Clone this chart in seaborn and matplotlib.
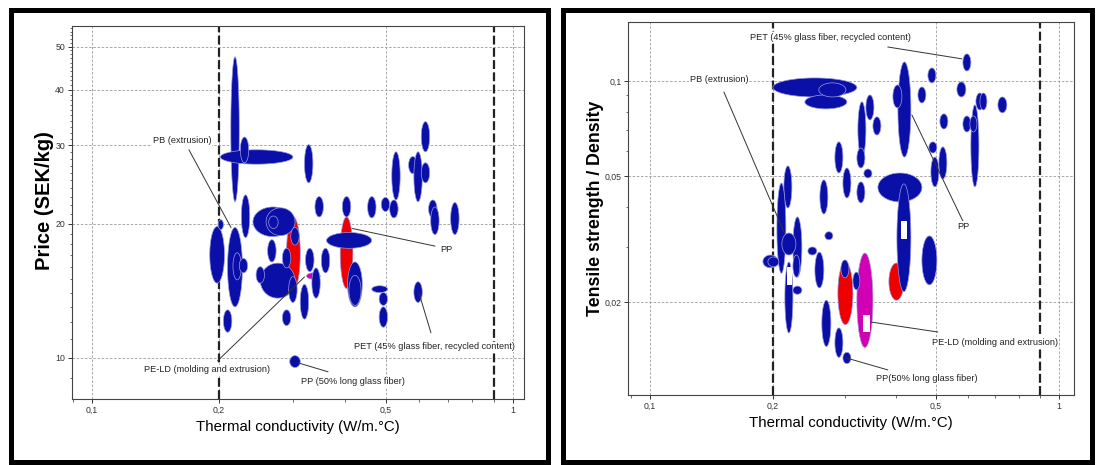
import numpy as np
import matplotlib
matplotlib.use("Agg")
import matplotlib.pyplot as plt
from matplotlib.patches import Rectangle
from matplotlib.ticker import FixedLocator, FixedFormatter, LogLocator, MultipleLocator, NullFormatter
import seaborn as sns

# estilo geral
sns.set_theme(style="white")
plt.rcParams["font.family"] = ["Liberation Sans", "DejaVu Sans"]

# ---- dados: painel esquerdo (condutividade x preco) ----
left_k_lo = [0.2138, 0.2018, 0.2252, 0.3199, 0.5158, 0.5656, 0.5821, 0.6061, 0.6061, 0.6310,
             0.6383, 0.7119, 0.3388, 0.3936, 0.4519, 0.4870, 0.5099, 0.2413, 0.2593, 0.2630,
             0.290, 0.389, 0.361, 0.1905, 0.1995, 0.210, 0.2163, 0.2239, 0.2265, 0.2615,
             0.2512, 0.2455, 0.2835, 0.2968, 0.2934, 0.3218, 0.3508, 0.3126, 0.3331, 0.3236,
             0.4050, 0.4080, 0.4624, 0.4814, 0.4814, 0.5821, 0.2835, 0.2053, 0.2951]
left_k_hi = [0.2239, 0.3003, 0.2358, 0.3350, 0.5401, 0.5923, 0.6095, 0.6346, 0.6346, 0.6607,
             0.6683, 0.7455, 0.3548, 0.4121, 0.4732, 0.5099, 0.5340, 0.3003, 0.3038, 0.2770,
             0.3126, 0.417, 0.462, 0.2065, 0.2053, 0.2278, 0.2265, 0.2344, 0.2371, 0.2739,
             0.3038, 0.2570, 0.2968, 0.3108, 0.3073, 0.3370, 0.3673, 0.3273, 0.3487, 0.3487,
             0.4389, 0.4360, 0.5041, 0.5041, 0.5041, 0.6095, 0.2968, 0.2150, 0.3126]
left_price_lo = [22.4, 27.2, 27.4, 24.7, 22.6, 25.9, 22.4, 29.0, 24.7, 20.6,
                 18.9, 18.9, 20.7, 20.7, 20.6, 21.3, 20.6, 18.7, 18.8, 19.5,
                 14.2, 14.3, 17.6, 14.7, 19.4, 13.0, 14.95, 15.5, 18.6, 16.4,
                 13.6, 14.7, 15.9, 17.9, 13.3, 15.6, 15.5, 12.2, 13.6, 15.0,
                 13.0, 13.1, 14.0, 13.1, 11.7, 13.3, 11.8, 11.4, 9.5]
left_price_hi = [47.4, 29.3, 31.3, 30.1, 29.0, 28.3, 29.0, 33.9, 27.4, 22.6,
                 21.8, 22.3, 23.0, 23.0, 23.0, 22.9, 22.6, 21.8, 21.7, 20.8,
                 20.7, 20.7, 19.1, 19.7, 20.4, 19.6, 17.2, 16.7, 23.2, 18.4,
                 16.3, 16.0, 17.6, 19.6, 15.2, 17.6, 17.6, 14.6, 15.9, 15.5,
                 16.4, 15.3, 14.5, 14.0, 13.0, 14.8, 12.8, 12.8, 10.1]
left_group = ["other"] * 20 + ["PP", "PP"] + ["other"] * 17 + ["PE-LD"] + ["other"] * 9

# ---- dados: painel direito (condutividade x resistencia/densidade) ----
right_k_lo = [0.200, 0.2395, 0.2591, 0.3228, 0.3377, 0.3513, 0.2836, 0.3210, 0.3339, 0.2967,
              0.3210, 0.2606, 0.2128, 0.2046, 0.3613, 0.4021, 0.4044, 0.3931, 0.4526, 0.4788,
              0.5122, 0.4815, 0.4869, 0.5093, 0.5830, 0.5636, 0.6273, 0.6417, 0.7100, 0.5830,
              0.6098, 0.6064, 0.4629, 0.3844, 0.2239, 0.2104, 0.1891, 0.1945, 0.2140, 0.2239,
              0.2239, 0.2436, 0.2680, 0.2534, 0.2635, 0.2884, 0.2934, 0.3210, 0.3139, 0.2836,
              0.2967]
right_k_hi = [0.321, 0.3034, 0.3017, 0.3377, 0.3533, 0.3675, 0.2967, 0.3358, 0.3494, 0.3104,
              0.3358, 0.2726, 0.2226, 0.2152, 0.4629, 0.4351, 0.4351, 0.4136, 0.4734, 0.5008,
              0.5358, 0.5036, 0.5093, 0.5328, 0.6098, 0.5929, 0.6563, 0.6675, 0.7468, 0.6098,
              0.6381, 0.6310, 0.5036, 0.4183, 0.2355, 0.2277, 0.2058, 0.2069, 0.2239, 0.2328,
              0.2355, 0.2562, 0.2804, 0.2665, 0.2773, 0.3139, 0.3069, 0.3513, 0.3264, 0.2967,
              0.3104]
right_ts_lo = [0.0890, 0.0816, 0.0890, 0.0575, 0.0753, 0.0675, 0.0512, 0.0531, 0.0494, 0.0427,
               0.0412, 0.0380, 0.0397, 0.0247, 0.0415, 0.0216, 0.0575, 0.0822, 0.0852, 0.0986,
               0.0705, 0.0592, 0.0463, 0.0490, 0.1075, 0.0890, 0.0810, 0.0810, 0.0793, 0.0690,
               0.0463, 0.0690, 0.0227, 0.0203, 0.0240, 0.0282, 0.0257, 0.0259, 0.0160, 0.0240,
               0.0212, 0.0282, 0.0315, 0.0222, 0.0145, 0.0170, 0.0239, 0.0144, 0.0219, 0.0134,
               0.0128]
right_ts_hi = [0.1022, 0.0903, 0.0986, 0.0859, 0.0903, 0.0770, 0.0642, 0.0614, 0.0527, 0.0531,
               0.0480, 0.0487, 0.0539, 0.0476, 0.0512, 0.0473, 0.1148, 0.0971, 0.0957, 0.1099,
               0.0787, 0.0642, 0.0575, 0.0619, 0.1217, 0.0993, 0.0916, 0.0916, 0.0890, 0.0775,
               0.0840, 0.0775, 0.0324, 0.0266, 0.0372, 0.0331, 0.0282, 0.0278, 0.0268, 0.0282,
               0.0225, 0.0299, 0.0334, 0.0288, 0.0203, 0.0268, 0.0272, 0.0286, 0.0249, 0.0166,
               0.0139]
right_group = ["other"] * 33 + ["PP"] + ["other"] * 11 + ["PP", "other", "PE-LD"] + ["other"] * 3

# marcadores brancos (k_lo, k_hi, v_lo, v_hi)
right_marks = [(0.4113, 0.4254, 0.0317, 0.0361), (0.332, 0.3454, 0.0161, 0.0182),
               (0.2164, 0.2226, 0.0227, 0.0259)]

cores = {"other": "#0a0fa8", "PP": "#ee0000", "PE-LD": "#d200b4"}
t = np.linspace(0, 2 * np.pi, 120)


def elipse(ax, klo, khi, vlo, vhi, **kw):
    cx = (np.log10(klo) + np.log10(khi)) / 2
    rx = (np.log10(khi) - np.log10(klo)) / 2
    cy = (np.log10(vlo) + np.log10(vhi)) / 2
    ry = (np.log10(vhi) - np.log10(vlo)) / 2
    ax.fill(10 ** (cx + rx * np.cos(t)), 10 ** (cy + ry * np.sin(t)), **kw)


def desenha(ax, klo, khi, vlo, vhi, grupos):
    # destacados primeiro, azuis por cima
    ordem = sorted(range(len(grupos)), key=lambda i: grupos[i] == "other")
    for i in ordem:
        elipse(ax, klo[i], khi[i], vlo[i], vhi[i], facecolor=cores[grupos[i]],
               edgecolor="#9a9ae0", linewidth=0.5)


def nota(ax, txt, pos, p0, p1):
    ax.plot([p0[0], p1[0]], [p0[1], p1[1]], color="#333333", lw=0.7)
    ax.text(pos[0], pos[1], txt, ha="center", va="center", fontsize=6.6, color="#222222",
            bbox=dict(facecolor="white", edgecolor="none", pad=0.5))


def eixo(ax, xlim, ylim, yticks, ylabels, ylabel, yminor, ysize):
    ax.set_xscale("log")
    ax.set_yscale("log")
    ax.set_xlim(*xlim)
    ax.set_ylim(*ylim)
    ax.xaxis.set_major_locator(FixedLocator([0.1, 0.2, 0.5, 1]))
    ax.xaxis.set_major_formatter(FixedFormatter(["0,1", "0,2", "0,5", "1"]))
    ax.xaxis.set_minor_locator(LogLocator(base=10, subs=np.arange(2, 10)))
    ax.xaxis.set_minor_formatter(NullFormatter())
    ax.yaxis.set_major_locator(FixedLocator(yticks))
    ax.yaxis.set_major_formatter(FixedFormatter(ylabels))
    ax.yaxis.set_minor_locator(yminor)
    ax.yaxis.set_minor_formatter(NullFormatter())
    ax.tick_params(which="major", direction="out", length=3, width=0.7, labelsize=6.3,
                   colors="#333333", pad=2)
    ax.tick_params(which="minor", direction="out", length=1.8, width=0.5, colors="#333333")
    ax.tick_params(axis="x", which="both", bottom=True)
    ax.tick_params(axis="y", which="both", left=True)
    for sp in ax.spines.values():
        sp.set_color("#444444")
        sp.set_linewidth(0.8)
    ax.grid(True, which="major", color="#9a9a9a", lw=0.6, ls=(0, (3, 2)))
    ax.set_axisbelow(True)
    ax.axvline(0.2, color="#222222", lw=1.6, ls=(0, (4, 1.5)), zorder=0.8)
    ax.axvline(0.9, color="#222222", lw=1.6, ls=(0, (4, 1.5)), zorder=0.8)
    ax.set_xlabel("Thermal conductivity (W/m.°C)", fontsize=10.8, color="black")
    ax.set_ylabel(ylabel, fontsize=ysize, fontweight="bold", color="black")


fig = plt.figure(figsize=(10.96, 4.65), dpi=100)
ax1 = fig.add_axes([0.0656, 0.1419, 0.4122, 0.8022])
ax2 = fig.add_axes([0.5734, 0.1505, 0.4061, 0.8022])

eixo(ax1, (0.0896, 1.0615), (8.07, 55.6), [10, 20, 30, 40, 50], ["10", "20", "30", "40", "50"],
     "Price (SEK/kg)", MultipleLocator(1), 14.5)
eixo(ax2, (0.0887, 1.087), (0.01019, 0.1535), [0.02, 0.05, 0.1], ["0,02", "0,05", "0,1"],
     "Tensile strength / Density", LogLocator(base=10, subs=np.arange(2, 10)), 12.8)

desenha(ax1, left_k_lo, left_k_hi, left_price_lo, left_price_hi, left_group)
desenha(ax2, right_k_lo, right_k_hi, right_ts_lo, right_ts_hi, right_group)
for m in right_marks:
    ax2.fill([m[0], m[1], m[1], m[0]], [m[2], m[2], m[3], m[3]], facecolor="white",
             edgecolor="none")

# anotacoes - painel esquerdo
nota(ax1, "PB (extrusion)", (0.164, 30.7), (0.170, 29.3), (0.214, 19.6))
nota(ax1, "PP", (0.694, 17.46), (0.6535, 17.8), (0.416, 19.5))
nota(ax1, "PET (45% glass fiber, recycled content)", (0.650, 10.57), (0.639, 11.37), (0.5985, 13.98))
nota(ax1, "PE-LD (molding and extrusion)", (0.1877, 9.38), (0.1988, 9.83), (0.320, 15.18))
nota(ax1, "PP (50% long glass fiber)", (0.417, 8.82), (0.309, 9.73), (0.364, 9.29))

# anotacoes - painel direito
nota(ax2, "PET (45% glass fiber, recycled content)", (0.2773, 0.137), (0.382, 0.128), (0.580, 0.1174))
nota(ax2, "PB (extrusion)", (0.1476, 0.1007), (0.1518, 0.0923), (0.2134, 0.0331))
nota(ax2, "PP", (0.583, 0.0348), (0.583, 0.0361), (0.4375, 0.0781))
nota(ax2, "PE-LD (molding and extrusion)", (0.698, 0.01498), (0.5065, 0.01611), (0.347, 0.01733))
nota(ax2, "PP(50% long glass fiber)", (0.477, 0.01153), (0.382, 0.01223), (0.3027, 0.01334))

ax1.xaxis.set_label_coords(0.5, -0.056)
ax2.xaxis.set_label_coords(0.5, -0.056)
ax1.xaxis.label.set_va("top")
ax2.xaxis.label.set_va("top")
ax1.yaxis.set_label_coords(-0.04, 0.533)
ax2.yaxis.set_label_coords(-0.056, 0.501)

# molduras pretas
W, H = 1096, 465
for x0, x1 in [(11, 547.5), (562.5, 1092)]:
    fig.add_artist(Rectangle((x0 / W, 3 / H), (x1 - x0) / W, 452 / H, transform=fig.transFigure,
                             fill=False, edgecolor="black", linewidth=3.6))

fig.savefig("out.png", dpi=100)
